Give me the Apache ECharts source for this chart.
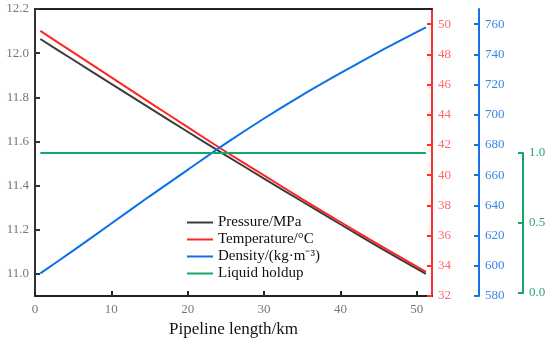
<!DOCTYPE html>
<html>
<head>
<meta charset="utf-8">
<script src="https://cdn.jsdelivr.net/npm/echarts@6/dist/echarts.min.js"></script>
<style>html,body{margin:0;padding:0;background:#fff}#c{width:550px;height:339px}</style>
</head>
<body>
<div id="c"></div>
<script>
const km = [0.7, 5, 10, 15, 20, 25, 30, 35, 40, 45, 51.2];
const pressure = [12.064, 11.970, 11.861, 11.752, 11.644, 11.537, 11.432, 11.328, 11.225, 11.123, 11.000];
const temperature = [49.55, 48.13, 46.47, 44.82, 43.18, 41.55, 39.98, 38.42, 36.90, 35.40, 33.60];
const density = [595, 610, 628, 646, 663.5, 681, 697.5, 713, 727.5, 741.5, 757.8];
const holdup = [1, 1, 1, 1, 1, 1, 1, 1, 1, 1, 1];
const seriesNames = ['Pressure/MPa', 'Temperature/\u00B0C', 'Density/(kg\u00B7m\u207B\u00B3)', 'Liquid holdup'];
const xTicks = [0, 10, 20, 30, 40, 50];
const pTicks = [11.0, 11.2, 11.4, 11.6, 11.8, 12.0, 12.2];
const tTicks = [32, 34, 36, 38, 40, 42, 44, 46, 48, 50];
const dTicks = [580, 600, 620, 640, 660, 680, 700, 720, 740, 760];
const hTicks = [0, 0.5, 1];

const zip = (a, b) => a.map((v, i) => [v, b[i]]);
const serif = 'Liberation Serif, Times New Roman, serif';

function yAx(opt) {
  return Object.assign({
    type: 'value',
    splitLine: { show: false },
    axisLine: { show: true, onZero: false, lineStyle: { color: opt.color, width: 2 } },
    axisTick: { show: true, inside: true, length: 5, lineStyle: { color: opt.color, width: 2 }, customValues: opt.ticks },
    axisLabel: { margin: 6, fontFamily: serif, fontSize: 13, color: opt.labelColor, customValues: opt.ticks, formatter: opt.fmt }
  }, opt.extra);
}

const chart = echarts.init(document.getElementById('c'), null, { renderer: 'canvas' });
chart.setOption({
  animation: false,
  backgroundColor: '#fff',
  grid: [
    { left: 35, right: 118, top: 9, bottom: 43, outerBoundsMode: 'none', containLabel: false },
    { left: 35, right: 118, top: 153, bottom: 46, outerBoundsMode: 'none', containLabel: false }
  ],
  legend: {
    orient: 'vertical',
    left: 187,
    top: 214,
    padding: 0,
    icon: 'rect',
    itemWidth: 26,
    itemHeight: 2,
    itemGap: 0,
    data: seriesNames,
    textStyle: { fontFamily: serif, fontSize: 15, color: '#111', lineHeight: 17 }
  },
  xAxis: [
    {
      type: 'value', gridIndex: 0, min: 0, max: 52, position: 'bottom',
      name: 'Pipeline length/km', nameLocation: 'middle', nameGap: 21,
      nameTextStyle: { fontFamily: serif, fontSize: 17, color: '#111' },
      splitLine: { show: false },
      axisLine: { onZero: false, lineStyle: { color: '#222', width: 2 } },
      axisTick: { inside: true, length: 5, lineStyle: { color: '#222', width: 2 }, customValues: xTicks },
      axisLabel: { margin: 7, fontFamily: serif, fontSize: 13, color: '#777', customValues: xTicks }
    },
    {
      type: 'value', gridIndex: 0, min: 0, max: 52, position: 'top',
      splitLine: { show: false },
      axisLine: { onZero: false, lineStyle: { color: '#222', width: 2 } },
      axisTick: { show: false }, axisLabel: { show: false }
    },
    {
      type: 'value', gridIndex: 1, min: 0, max: 52, show: false
    }
  ],
  yAxis: [
    yAx({ color: '#333', labelColor: '#777', ticks: pTicks, fmt: v => v.toFixed(1),
      extra: { gridIndex: 0, position: 'left', min: 10.9, max: 12.2 } }),
    yAx({ color: '#ff3030', labelColor: '#ff6a6a', ticks: tTicks, fmt: v => String(v),
      extra: { gridIndex: 0, position: 'right', offset: 0, min: 32, max: 51 } }),
    yAx({ color: '#1872e6', labelColor: '#3b87e6', ticks: dTicks, fmt: v => String(v),
      extra: { gridIndex: 0, position: 'right', offset: 47, min: 580, max: 770 } }),
    yAx({ color: '#17a565', labelColor: '#2aa872', ticks: hTicks, fmt: v => v.toFixed(1),
      extra: { gridIndex: 1, position: 'right', offset: 91, min: 0, max: 1 } })
  ],
  series: [
    { name: seriesNames[0], type: 'line', xAxisIndex: 0, yAxisIndex: 0, data: zip(km, pressure), smooth: 0.3,
      showSymbol: false, lineStyle: { color: '#3c3c3c', width: 2 }, itemStyle: { color: '#3c3c3c' } },
    { name: seriesNames[1], type: 'line', xAxisIndex: 0, yAxisIndex: 1, data: zip(km, temperature), smooth: 0.3,
      showSymbol: false, lineStyle: { color: '#ff2424', width: 2 }, itemStyle: { color: '#ff2424' } },
    { name: seriesNames[2], type: 'line', xAxisIndex: 0, yAxisIndex: 2, data: zip(km, density), smooth: 0.3,
      showSymbol: false, lineStyle: { color: '#0a6fe8', width: 2 }, itemStyle: { color: '#0a6fe8' } },
    { name: seriesNames[3], type: 'line', xAxisIndex: 2, yAxisIndex: 3, data: zip(km, holdup), clip: false,
      showSymbol: false, lineStyle: { color: '#12a866', width: 2 }, itemStyle: { color: '#12a866' } }
  ]
});
</script>
</body>
</html>
